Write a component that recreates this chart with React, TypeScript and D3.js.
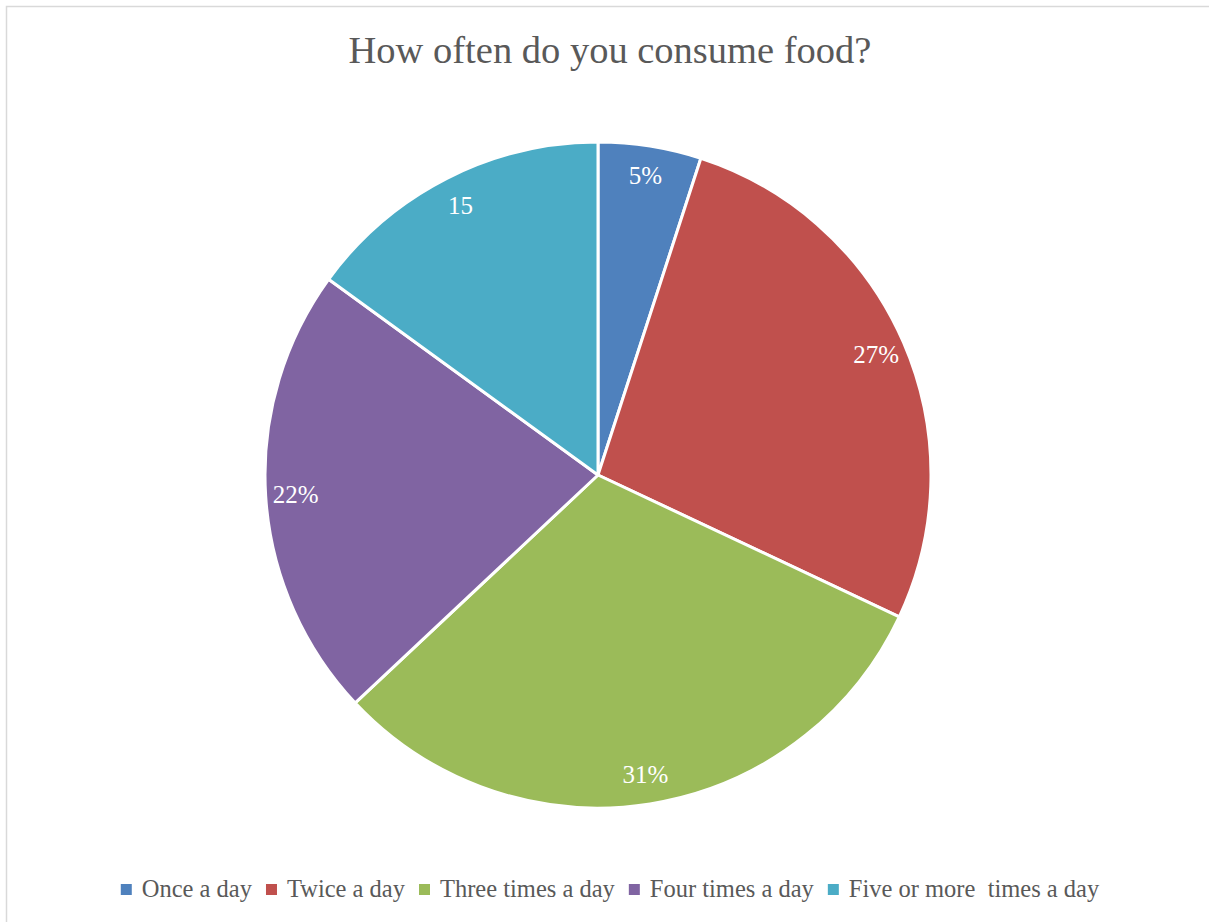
import React, { useEffect, useRef } from "react";
import * as d3 from "d3";

const categories = ["Once a day", "Twice a day", "Three times a day", "Four times a day", "Five or more  times a day"];
const values = [5, 27, 31, 22, 15];
const sliceLabels = ["5%", "27%", "31%", "22%", "15"];
const colors = ["#4F81BD", "#C0504D", "#9BBB59", "#8064A2", "#4BACC6"];
const title = "How often do you consume food?";

const W = 1209;
const H = 922;
const FONT = "'Liberation Serif', 'DejaVu Serif', serif";

export default function App() {
  const ref = useRef<SVGSVGElement | null>(null);

  useEffect(() => {
    const svg = d3.select(ref.current);
    svg.selectAll("*").remove();

    svg.append("rect").attr("width", W).attr("height", H).attr("fill", "#fff");
    svg.append("rect")
      .attr("x", 6.5).attr("y", 6.5).attr("width", W + 20).attr("height", H + 20)
      .attr("fill", "none").attr("stroke", "#d9d9d9").attr("stroke-width", 1.5);

    svg.append("text")
      .attr("x", 610).attr("y", 63)
      .attr("text-anchor", "middle")
      .attr("font-family", FONT).attr("font-size", 38.5)
      .attr("fill", "#595959")
      .text(title);

    const cx = 598, cy = 475, R = 333;
    const pie = d3.pie<number>().sort(null).value(d => d)(values);
    const arc = d3.arc<d3.PieArcDatum<number>>().innerRadius(0).outerRadius(R);
    const labelArc = d3.arc<d3.PieArcDatum<number>>().innerRadius(R * 0.91).outerRadius(R * 0.91);

    const g = svg.append("g").attr("transform", `translate(${cx},${cy})`);
    g.selectAll("path").data(pie).join("path")
      .attr("d", arc)
      .attr("fill", (_, i) => colors[i])
      .attr("stroke", "#fff").attr("stroke-width", 3).attr("stroke-linejoin", "round");

    g.selectAll("text.lbl").data(pie).join("text")
      .attr("class", "lbl")
      .attr("transform", d => `translate(${labelArc.centroid(d)})`)
      .attr("text-anchor", "middle").attr("dy", "0.35em")
      .attr("font-family", FONT).attr("font-size", 25)
      .attr("fill", "#fff")
      .text((_, i) => sliceLabels[i]);

    // legend
    const lg = svg.append("g");
    const fs = 24.5, sq = 11, gapSq = 10, gapItem = 14;
    let x = 0;
    categories.forEach((c, i) => {
      const it = lg.append("g");
      it.append("rect").attr("x", x).attr("y", 884).attr("width", sq).attr("height", sq).attr("fill", colors[i]);
      const t = it.append("text").attr("x", x + sq + gapSq).attr("y", 897)
        .attr("font-family", FONT).attr("font-size", fs).attr("fill", "#595959")
        .attr("xml:space", "preserve").style("white-space", "pre")
        .text(c);
      const w = (t.node() as SVGTextElement).getComputedTextLength();
      x += sq + gapSq + w + gapItem;
    });
    const total = x - gapItem;
    lg.attr("transform", `translate(${610 - total / 2},0)`);
  }, []);

  return (
    <svg ref={ref} width={W} height={H}
      style={{ position: "absolute", left: 0, top: 0, display: "block" }} />
  );
}
